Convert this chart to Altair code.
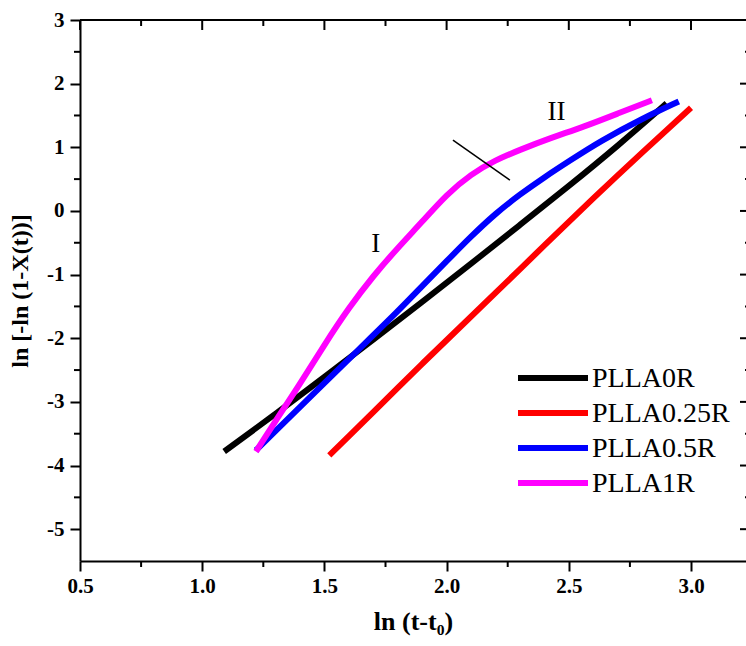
import altair as alt
import pandas as pd

# Avrami plot: ln[-ln(1-X(t))] against ln(t - t0) for four PLLA samples
series_names = ["PLLA0R", "PLLA0.25R", "PLLA0.5R", "PLLA1R"]
series_colors = ["#000000", "#ff0000", "#0000ff", "#ff00ff"]

black_x = [1.09, 1.30, 1.50, 1.70, 1.90, 2.10, 2.30, 2.50, 2.70, 2.90]
black_y = [-3.78, -3.19, -2.61, -2.02, -1.43, -0.83, -0.22, 0.39, 1.02, 1.69]

red_x = [1.52, 1.60, 1.70, 1.80, 1.90, 2.00, 2.20, 2.40, 2.60, 2.80, 3.00]
red_y = [-3.84, -3.54, -3.16, -2.78, -2.40, -2.03, -1.29, -0.54, 0.20, 0.92, 1.62]

blue_x = [1.22, 1.30, 1.44, 1.65, 1.80, 1.90, 2.00, 2.10, 2.20, 2.30, 2.40, 2.50, 2.63, 2.80, 2.95]
blue_y = [-3.76, -3.46, -2.93, -2.14, -1.58, -1.18, -0.79, -0.40, -0.04, 0.26, 0.53, 0.78, 1.10, 1.45, 1.72]

magenta_x = [1.22, 1.30, 1.40, 1.50, 1.60, 1.70, 1.80, 1.90, 2.00, 2.10, 2.20, 2.30, 2.42, 2.56, 2.70, 2.84]
magenta_y = [-3.78, -3.30, -2.72, -2.10, -1.52, -1.02, -0.58, -0.17, 0.26, 0.58, 0.80, 0.96, 1.14, 1.32, 1.53, 1.74]

# regime labels and the divider between them
region_labels = ["I", "II"]
region_x = [1.71, 2.45]
region_y = [-0.52, 1.55]
divider_x = [2.026, 2.259]
divider_y = [1.113, 0.484]

x_major = [0.5, 1.0, 1.5, 2.0, 2.5, 3.0]
x_minor = [0.75, 1.25, 1.75, 2.25, 2.75]
y_major = [-5, -4, -3, -2, -1, 0, 1, 2, 3]
y_minor = [-4.5, -3.5, -2.5, -1.5, -0.5, 0.5, 1.5, 2.5]

W, H = 666, 541
X_DOMAIN = [0.5, 3.225]
Y_DOMAIN = [-5.5, 3.0]
SERIF = "Liberation Serif"

xs = alt.Scale(domain=X_DOMAIN, nice=False, zero=False)
ys = alt.Scale(domain=Y_DOMAIN, nice=False, zero=False)

x_axis = alt.Axis(
    title="ln (t-t\u2080)", values=x_major, labelExpr="format(datum.value, '.1f')", grid=False,
    tickSize=10, tickWidth=2, tickColor="black", domainWidth=2, domainColor="black",
    labelFont=SERIF, labelFontWeight="bold", labelFontSize=21, labelColor="black",
    labelPadding=4, labelFlush=False,
    titleFont=SERIF, titleFontWeight="bold", titleFontSize=26, titleColor="black",
    titlePadding=12,
)
y_axis = alt.Axis(
    title="ln [-ln (1-X(t))]", values=y_major, labelExpr="'' + datum.value", grid=False,
    tickSize=10, tickWidth=2, tickColor="black", domainWidth=2, domainColor="black",
    labelFont=SERIF, labelFontWeight="bold", labelFontSize=21, labelColor="black",
    labelPadding=6, labelFlush=False,
    titleFont=SERIF, titleFontWeight="bold", titleFontSize=24, titleColor="black",
    titlePadding=14,
)


def X(field):
    return alt.X(field, type="quantitative", scale=xs, axis=x_axis)


def Y(field):
    return alt.Y(field, type="quantitative", scale=ys, axis=y_axis)


layers = []
for name, color, cx, cy in zip(
    series_names, series_colors,
    [black_x, red_x, blue_x, magenta_x],
    [black_y, red_y, blue_y, magenta_y],
):
    df = pd.DataFrame({"x": cx, "y": cy})
    layers.append(
        alt.Chart(df).mark_line(color=color, strokeWidth=6, interpolate="basis",
                                strokeCap="butt", clip=True)
        .encode(x=X("x"), y=Y("y"))
    )

# divider segment between regimes I and II
div_df = pd.DataFrame({"x": [divider_x[0]], "y": [divider_y[0]],
                       "x2": [divider_x[1]], "y2": [divider_y[1]]})
layers.append(
    alt.Chart(div_df).mark_rule(color="black", strokeWidth=1.5)
    .encode(x=X("x"), y=Y("y"), x2="x2:Q", y2="y2:Q")
)

lab_df = pd.DataFrame({"label": region_labels, "x": region_x, "y": region_y})
layers.append(
    alt.Chart(lab_df).mark_text(font=SERIF, fontSize=27, color="black",
                                align="center", baseline="middle")
    .encode(x=X("x"), y=Y("y"), text="label:N")
)

# frame: top border plus inward ticks on top and right, minor ticks on left/bottom
layers.append(
    alt.Chart(pd.DataFrame({"x": [X_DOMAIN[0]]})).mark_rule(color="black", strokeWidth=2)
    .encode(x=alt.value(0), x2=alt.value(W), y=alt.value(0))
)
xmaj_df = pd.DataFrame({"x": x_major})
xmin_df = pd.DataFrame({"x": x_minor})
ymaj_df = pd.DataFrame({"y": y_major})
ymin_df = pd.DataFrame({"y": y_minor})
tick = dict(color="black", strokeWidth=2)
layers += [
    alt.Chart(xmaj_df).mark_rule(**tick).encode(x=X("x"), y=alt.value(0), y2=alt.value(10)),
    alt.Chart(xmin_df).mark_rule(**tick).encode(x=X("x"), y=alt.value(0), y2=alt.value(6)),
    alt.Chart(xmin_df).mark_rule(**tick).encode(x=X("x"), y=alt.value(H), y2=alt.value(H + 6)),
    alt.Chart(ymin_df).mark_rule(**tick).encode(y=Y("y"), x=alt.value(-6), x2=alt.value(0)),
    alt.Chart(ymaj_df).mark_rule(**tick).encode(y=Y("y"), x=alt.value(W - 6), x2=alt.value(W)),
    alt.Chart(ymin_df).mark_rule(**tick).encode(y=Y("y"), x=alt.value(W - 1), x2=alt.value(W)),
]

# legend drawn in the lower right of the plot
leg_df = pd.DataFrame({"series": series_names, "row": list(range(len(series_names)))})
color_scale = alt.Scale(domain=series_names, range=series_colors)
leg_base = alt.Chart(leg_df).transform_calculate(ly="358 + 35 * datum.row")
layers.append(
    leg_base.mark_rule(strokeWidth=6).encode(
        x=alt.value(438), x2=alt.value(508),
        y=alt.Y("ly:Q", scale=None, axis=None),
        color=alt.Color("series:N", scale=color_scale, legend=None),
    )
)
layers.append(
    leg_base.mark_text(font=SERIF, fontSize=28, color="black", align="left",
                       baseline="middle", dy=1).encode(
        x=alt.value(512),
        y=alt.Y("ly:Q", scale=None, axis=None),
        text="series:N",
    )
)

chart = (
    alt.layer(*layers)
    .properties(
        width=W, height=H,
        autosize=alt.AutoSizeParams(type="none"),
        padding={"left": 80, "top": 20, "right": 0, "bottom": 85},
        background="white",
    )
    .configure_view(stroke=None)
)

chart.save("out.html", embed_options={"renderer": "svg", "actions": False})
